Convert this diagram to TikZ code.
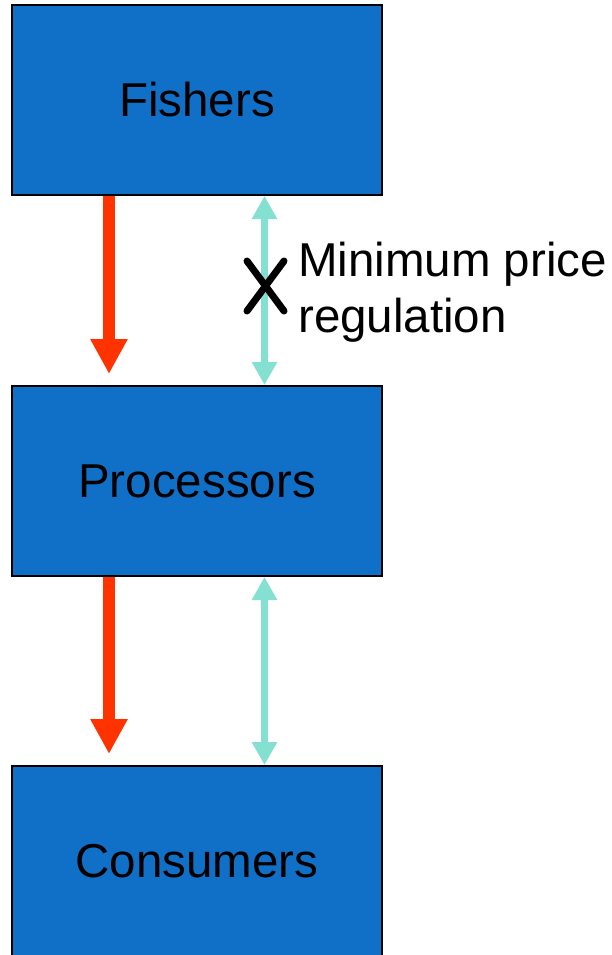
\documentclass[tikz,border=0pt]{standalone}
\usepackage{fontspec}
\setmainfont{Liberation Sans}
\usetikzlibrary{arrows.meta}
\definecolor{boxblue}{RGB}{16,111,198}
\definecolor{flowred}{RGB}{255,51,0}
\definecolor{pricecyan}{RGB}{132,224,208}
\tikzset{
  stage/.style={draw=black, line width=2pt, fill=boxblue, minimum width=370pt,
    minimum height=190pt, inner sep=0pt, font=\fontsize{47.5}{52}\selectfont},
  goods/.style={flowred, line width=12pt, -{Triangle[width=35pt,length=35pt]}},
  money/.style={pricecyan, line width=7pt, {Triangle[width=24pt,length=23pt]}-{Triangle[width=24pt,length=23pt]}},
  cross/.style={black, line width=7pt, line cap=round}
}
\begin{document}
\begin{tikzpicture}[x=1pt,y=-1pt]
  \useasboundingbox (0,0) rectangle (611,955);
  \clip (0,0) rectangle (611,955);

  % supply chain stages
  \node[stage] (fish) at (197,100) {Fishers};
  \node[stage] (proc) at (197,481) {Processors};
  \node[stage] (cons) at (197,861) {Consumers};

  % flow of product (down the chain)
  \draw[goods] ([xshift=-88pt]fish.south) -- ([xshift=-88pt,yshift=11pt]proc.north);
  \draw[goods] ([xshift=-88pt]proc.south) -- ([xshift=-88pt,yshift=11pt]cons.north);

  % price links between stages
  \draw[money] ([xshift=67.5pt]fish.south) -- ([xshift=67.5pt]proc.north);
  \draw[money] ([xshift=67.5pt]proc.south) -- ([xshift=67.5pt]cons.north);

  % crossed-out link
  \draw[cross] (247,261) -- (284,311);
  \draw[cross] (284,261) -- (247,311);

  \node[anchor=north west, align=left, inner sep=0pt, font=\fontsize{47.5}{56}\selectfont]
    (reg) at (298,242) {Minimum price\\regulation};
\end{tikzpicture}
\end{document}
